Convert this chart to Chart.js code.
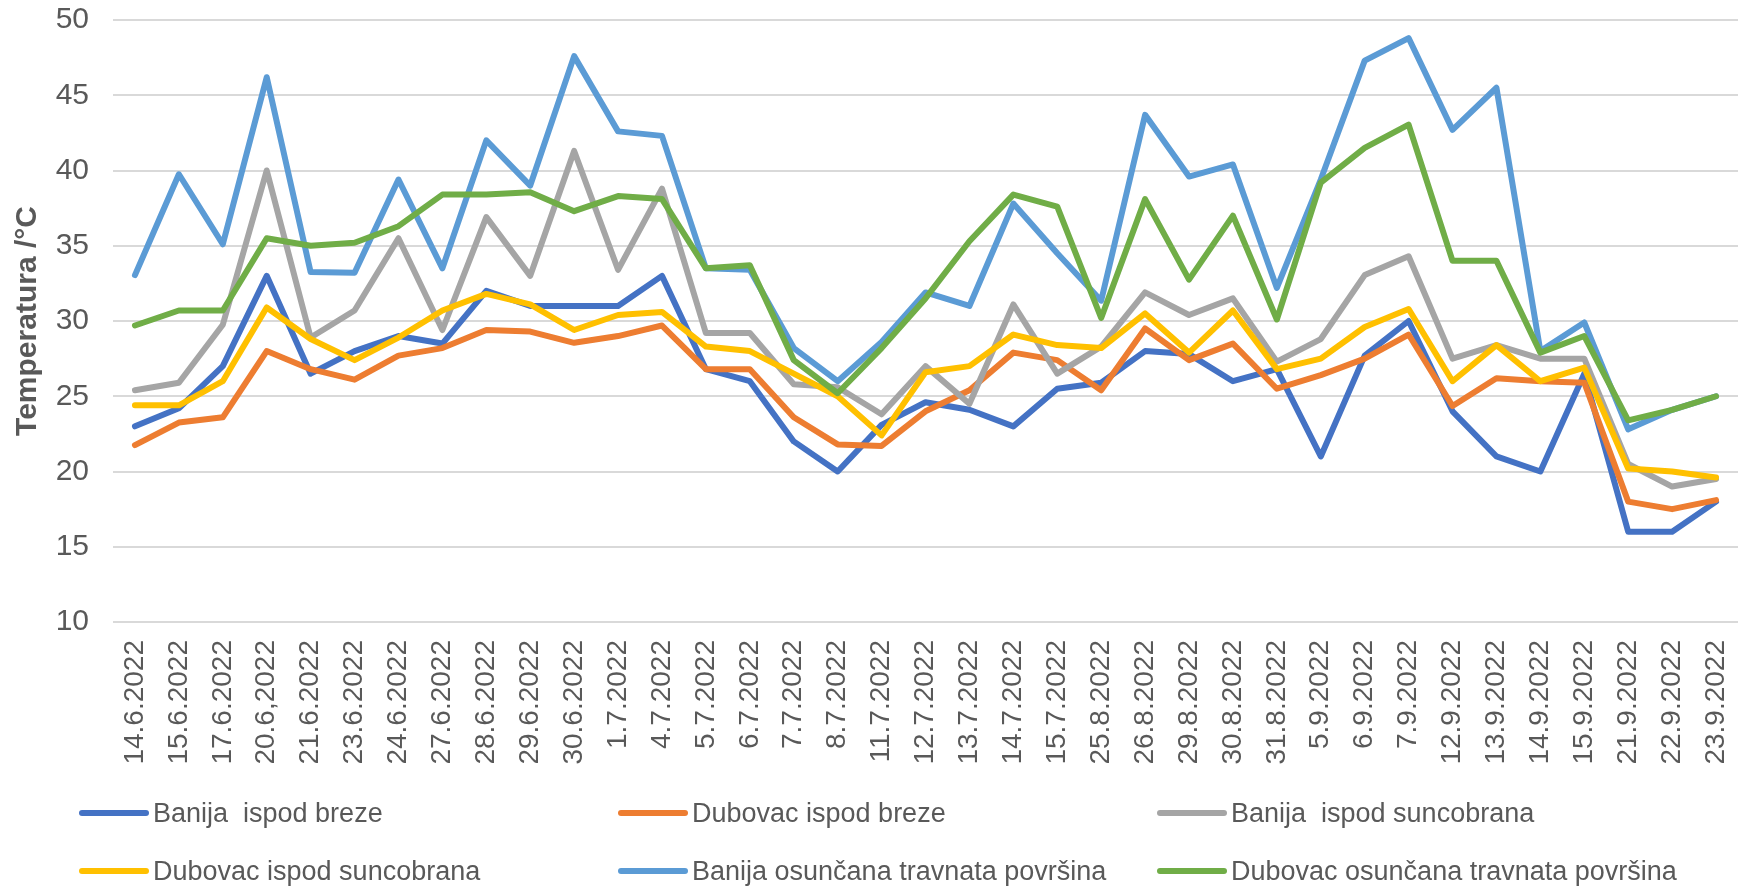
<!DOCTYPE html>
<html>
<head>
<meta charset="utf-8">
<script src="https://cdn.jsdelivr.net/npm/chart.js@4"></script>
<style>
  body { margin: 0; background: #fff; }
  #wrap { position: relative; width: 1760px; height: 886px; }
  #legenda { position: absolute; left: 0; top: 0; width: 1760px; height: 886px; pointer-events: none; }
  .stavka { position: absolute; display: flex; align-items: center; font: 27px "Liberation Sans", Arial, sans-serif; color: #595959; white-space: pre; }
  .crta { width: 70px; height: 6px; border-radius: 3px; margin-right: 4px; }
</style>
</head>
<body>
<div id="wrap">
  <canvas id="grafik" width="1760" height="886"></canvas>
  <div id="legenda"></div>
</div>
<script>
const datumi = ["14.6.2022","15.6.2022","17.6.2022","20.6,2022","21.6.2022","23.6.2022","24.6.2022","27.6.2022","28.6.2022","29.6.2022","30.6.2022","1.7.2022","4.7.2022","5.7.2022","6.7.2022","7.7.2022","8.7.2022","11.7.2022","12.7.2022","13.7.2022","14.7.2022","15.7.2022","25.8.2022","26.8.2022","29.8.2022","30.8.2022","31.8.2022","5.9.2022","6.9.2022","7.9.2022","12.9.2022","13.9.2022","14.9.2022","15.9.2022","21.9.2022","22.9.2022","23.9.2022"];

const banijaBreze = [23, 24.2, 27, 33, 26.5, 28, 29, 28.5, 32, 31, 31, 31, 33, 26.8, 26, 22, 20, 23.1, 24.6, 24.1, 23, 25.5, 25.9, 28, 27.8, 26, 26.8, 21, 27.7, 30, 24, 21, 20, 26.5, 16, 16, 18];
const dubovacBreze = [21.75, 23.25, 23.6, 28, 26.8, 26.1, 27.7, 28.2, 29.4, 29.3, 28.55, 29, 29.7, 26.8, 26.8, 23.6, 21.8, 21.7, 24, 25.4, 27.9, 27.4, 25.4, 29.5, 27.4, 28.5, 25.5, 26.4, 27.5, 29.1, 24.35, 26.2, 26, 25.9, 18, 17.5, 18.1];
const banijaSuncobran = [25.4, 25.9, 29.75, 40, 28.9, 30.7, 35.5, 29.4, 36.9, 33, 41.3, 33.4, 38.8, 29.2, 29.2, 25.8, 25.6, 23.8, 27, 24.5, 31.1, 26.5, 28.3, 31.9, 30.4, 31.5, 27.3, 28.8, 33.05, 34.3, 27.5, 28.4, 27.5, 27.5, 20.5, 19, 19.5];
const dubovacSuncobran = [24.4, 24.4, 26, 30.9, 28.8, 27.4, 28.9, 30.7, 31.8, 31.1, 29.4, 30.4, 30.6, 28.3, 28, 26.5, 25, 22.4, 26.6, 27, 29.1, 28.4, 28.2, 30.5, 27.9, 30.7, 26.8, 27.5, 29.6, 30.8, 26, 28.4, 26, 26.9, 20.2, 20, 19.6];
const banijaSunce = [33.05, 39.75, 35.1, 46.2, 33.25, 33.2, 39.4, 33.5, 42, 39, 47.6, 42.6, 42.3, 33.5, 33.4, 28.2, 26, 28.6, 31.9, 31, 37.8, 34.5, 31.35, 43.7, 39.6, 40.4, 32.2, 39.4, 47.3, 48.8, 42.7, 45.5, 28, 29.9, 22.8, 24.1, 25];
const dubovacSunce = [29.7, 30.7, 30.7, 35.5, 35, 35.2, 36.3, 38.4, 38.4, 38.55, 37.3, 38.3, 38.1, 33.5, 33.7, 27.4, 25.2, 28.2, 31.5, 35.3, 38.4, 37.6, 30.2, 38.1, 32.75, 37, 30.1, 39.2, 41.5, 43.05, 34, 34, 27.9, 29, 23.4, 24.1, 25];

const nazivi = ["Banija  ispod breze", "Dubovac ispod breze", "Banija  ispod suncobrana", "Dubovac ispod suncobrana", "Banija osunčana travnata površina", "Dubovac osunčana travnata površina"];
const boje = ["#4472C4", "#ED7D31", "#A5A5A5", "#FFC000", "#5B9BD5", "#70AD47"];
const serije = [banijaBreze, dubovacBreze, banijaSuncobran, dubovacSuncobran, banijaSunce, dubovacSunce];

const siva = "#595959";

const grafik = new Chart(document.getElementById("grafik"), {
  type: "line",
  data: {
    labels: datumi,
    datasets: serije.map((s, i) => ({
      label: nazivi[i],
      data: s,
      borderColor: boje[i],
      backgroundColor: boje[i],
      borderWidth: 6,
      pointRadius: 0,
      tension: 0,
      borderJoinStyle: "round",
      borderCapStyle: "round",
      order: serije.length - i
    }))
  },
  options: {
    responsive: false,
    animation: false,
    layout: { padding: { top: 20, right: 22, bottom: 104, left: 0 } },
    plugins: { legend: { display: false }, tooltip: { enabled: false } },
    scales: {
      x: {
        offset: true,
        grid: { display: false, drawTicks: false },
        border: { display: false },
        ticks: {
          autoSkip: false, minRotation: 90, maxRotation: 90,
          color: siva, padding: 18,
          font: { family: "Liberation Sans", size: 28 }
        },
        afterFit: (s) => { s.height = 160; s.paddingLeft = 0; s.paddingRight = 0; }
      },
      y: {
        min: 10, max: 50,
        grid: { color: "#d9d9d9", lineWidth: 2, drawTicks: false },
        border: { display: false },
        ticks: {
          stepSize: 5, color: siva, padding: 24,
          font: { family: "Liberation Sans", size: 30 }
        },
        title: {
          display: true, text: "Temperatura /°C", color: siva,
          padding: { top: 10, bottom: 0 },
          font: { family: "Liberation Sans", size: 30, weight: "bold" }
        },
        afterFit: (s) => { s.width = 113; s.paddingTop = 0; s.paddingBottom = 0; }
      }
    }
  }
});

// legenda u tri stupca
const legenda = document.getElementById("legenda");
const stupci = [79, 618, 1157];
const redovi = [813, 871];
nazivi.forEach((n, i) => {
  const el = document.createElement("div");
  el.className = "stavka";
  el.style.left = stupci[i % 3] + "px";
  el.style.top = (redovi[Math.floor(i / 3)] - 16) + "px";
  el.style.height = "32px";
  el.innerHTML = '<span class="crta" style="background:' + boje[i] + '"></span>' + n;
  legenda.appendChild(el);
});
</script>
</body>
</html>
